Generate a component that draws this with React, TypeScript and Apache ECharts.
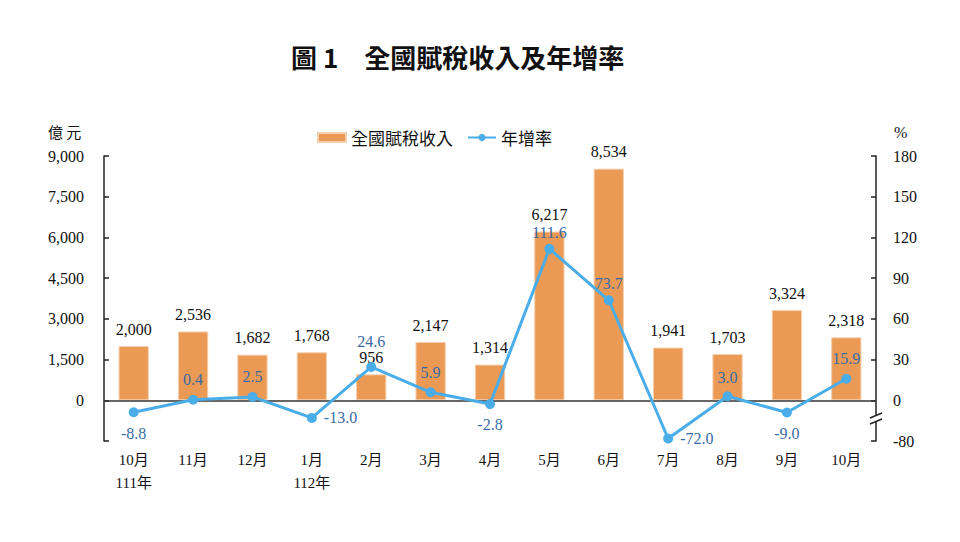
import React, { useEffect, useRef } from "react";
import * as echarts from "echarts";

const categories = ["10月\n111年", "11月", "12月", "1月\n112年", "2月", "3月", "4月", "5月", "6月", "7月", "8月", "9月", "10月"];
const revenue = [2000, 2536, 1682, 1768, 956, 2147, 1314, 6217, 8534, 1941, 1703, 3324, 2318];
const growth = [-8.8, 0.4, 2.5, -13.0, 24.6, 5.9, -2.8, 111.6, 73.7, -72.0, 3.0, -9.0, 15.9];
const growthLabelPlace = ["bottom", "top", "top", "right", "top", "top", "bottom", "top", "top", "right", "top", "bottom", "top"];
const growthLabelGap = [8, 7, 7, 7, 12, 7, 7, 3, 4, 7, 6, 8, 7];
const leftTicks = { min: -1500, max: 9000, interval: 1500 };
const rightTicks = { min: -30, max: 180, interval: 30 };
const rightBottomLabel = "-80";

// axis break on the right axis: values below -15 are compressed so that -80 sits at -30
const BREAK_AT = -15;
const brk = (v: number) => (v >= BREAK_AT ? v : BREAK_AT + (v - BREAK_AT) * ((rightTicks.min - BREAK_AT) / (-80 - BREAK_AT)));

const SERIF = "'Liberation Serif', 'Noto Sans CJK TC', serif";
const CJK = "'Noto Sans CJK TC', 'Liberation Serif', sans-serif";

export default function App() {
  const ref = useRef<HTMLDivElement>(null);
  useEffect(() => {
    if (!ref.current) return;
    const chart = echarts.init(ref.current, null, { renderer: "svg" });
    chart.setOption({
      animation: false,
      backgroundColor: "#fff",
      title: {
        text: "圖 1　全國賦稅收入及年增率",
        left: 286,
        top: 38,
        textStyle: { fontFamily: CJK, fontSize: 26, fontWeight: "bold", color: "#111" },
      },
      legend: {
        top: 124,
        left: 312,
        itemGap: 14,
        itemWidth: 28,
        itemHeight: 9,
        textStyle: { fontFamily: CJK, fontSize: 17, color: "#111" },
        data: [
          { name: "全國賦稅收入", icon: "rect" },
          { name: "年增率" },
        ],
      },
      grid: { left: 104, right: 84, top: 156, bottom: 101 },
      xAxis: {
        type: "category",
        data: categories,
        axisLine: { show: false },
        axisTick: { show: false },
        axisLabel: { color: "#111", fontFamily: SERIF, fontSize: 15, margin: 7, lineHeight: 23 },
      },
      yAxis: [
        {
          type: "value",
          ...leftTicks,
          splitLine: { show: false },
          axisLine: { show: true, lineStyle: { color: "#222", width: 1.5 } },
          axisTick: { show: true, inside: true, length: 5, lineStyle: { color: "#222", width: 1.5 } },
          axisLabel: {
            color: "#111",
            fontFamily: SERIF,
            fontSize: 16,
            margin: 20,
            formatter: (v: number) => (v < 0 ? "" : v.toLocaleString("en-US")),
          },
        },
        {
          type: "value",
          ...rightTicks,
          position: "right",
          splitLine: { show: false },
          axisLine: { show: true, lineStyle: { color: "#222", width: 1.5 } },
          axisTick: { show: true, inside: true, length: 5, lineStyle: { color: "#222", width: 1.5 } },
          axisLabel: {
            color: "#111",
            fontFamily: SERIF,
            fontSize: 16,
            margin: 17,
            formatter: (v: number) => (v === rightTicks.min ? rightBottomLabel : String(v)),
          },
        },
      ],
      graphic: [
        { type: "text", left: 48, top: 124, style: { text: "億 元", font: `15px ${CJK}`, fill: "#111" } },
        { type: "text", left: 894, top: 124, style: { text: "%", font: `16px ${SERIF}`, fill: "#111" } },
        { type: "rect", shape: { x: 869, y: 416, width: 14, height: 5 }, style: { fill: "#fff" }, z: 100 },
        { type: "line", shape: { x1: 870, y1: 418, x2: 882, y2: 413 }, style: { stroke: "#222", lineWidth: 1.5 }, z: 101 },
        { type: "line", shape: { x1: 870, y1: 424, x2: 882, y2: 419 }, style: { stroke: "#222", lineWidth: 1.5 }, z: 101 },
      ],
      series: [
        {
          name: "全國賦稅收入",
          type: "bar",
          yAxisIndex: 0,
          barWidth: "51%",
          data: revenue,
          itemStyle: { color: "#EA9A55", borderColor: "#F6CFAE", borderWidth: 1 },
          label: {
            show: true,
            position: "top",
            distance: 9,
            color: "#111",
            fontFamily: SERIF,
            fontSize: 16,
            formatter: (p: any) => revenue[p.dataIndex].toLocaleString("en-US"),
          },
          markLine: {
            silent: true,
            symbol: "none",
            label: { show: false },
            lineStyle: { color: "#333", width: 1.5, type: "solid" },
            data: [{ yAxis: 0 }],
            z: 3,
          },
        },
        {
          name: "年增率",
          type: "line",
          yAxisIndex: 1,
          symbol: "circle",
          symbolSize: 10,
          z: 5,
          lineStyle: { color: "#4AADE8", width: 3 },
          itemStyle: { color: "#4AADE8" },
          data: growth.map((v, i) => ({
            value: brk(v),
            label: { position: growthLabelPlace[i], distance: growthLabelGap[i] },
          })),
          label: {
            show: true,
            color: "#3A6BA5",
            fontFamily: SERIF,
            fontSize: 16,
            formatter: (p: any) => growth[p.dataIndex].toFixed(1),
          },
        },
      ],
    });
    return () => chart.dispose();
  }, []);
  return <div ref={ref} style={{ position: "fixed", left: 0, top: 0, width: 960, height: 542 }} />;
}
